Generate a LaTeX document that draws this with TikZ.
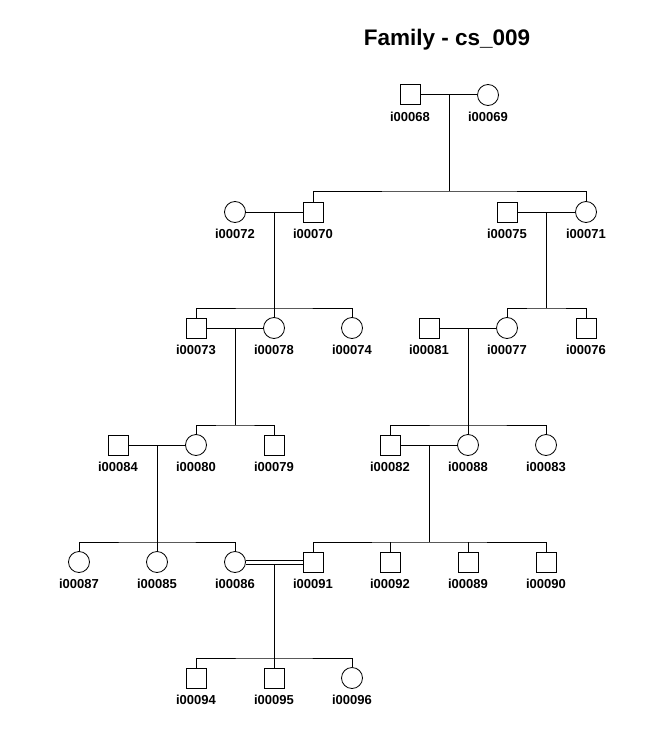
\documentclass[tikz,border=0pt]{standalone}
\usepackage{fontspec}
\setmainfont{Liberation Sans}
\begin{document}
\begin{tikzpicture}[x=1pt,y=-1pt,
  male/.style={draw,line width=1pt,rectangle,minimum size=20pt,inner sep=0pt},
  female/.style={draw,line width=0.8pt,circle,minimum size=21pt,inner sep=0pt},
  lbl/.style={font=\bfseries\fontsize{13}{13}\selectfont,inner sep=0pt,anchor=center},
  ln/.style={line width=1pt}]
\useasboundingbox (0,0) rectangle (657,733);
\fill[white] (0,0) rectangle (657,733);
\newcommand\person[4]{%
  \node[#2] (#1) at (#3,#4) {};
  \node[lbl] (#1l) at (#3,#4+22) {#1};}
\node[font=\bfseries\fontsize{22.5}{22.5}\selectfont,inner sep=0pt] (title) at (447,40) {Family - cs\_009};
% generation 1
\person{i00068}{male}{410}{95}
\person{i00069}{female}{488}{95}
% generation 2
\person{i00072}{female}{235}{212}
\person{i00070}{male}{313}{212}
\person{i00075}{male}{507}{212}
\person{i00071}{female}{586}{212}
% generation 3
\person{i00073}{male}{196}{328}
\person{i00078}{female}{274}{328}
\person{i00074}{female}{352}{328}
\person{i00081}{male}{429}{328}
\person{i00077}{female}{507}{328}
\person{i00076}{male}{586}{328}
% generation 4
\person{i00084}{male}{118}{445}
\person{i00080}{female}{196}{445}
\person{i00079}{male}{274}{445}
\person{i00082}{male}{390}{445}
\person{i00088}{female}{468}{445}
\person{i00083}{female}{546}{445}
% generation 5
\person{i00087}{female}{79}{562}
\person{i00085}{female}{157}{562}
\person{i00086}{female}{235}{562}
\person{i00091}{male}{313}{562}
\person{i00092}{male}{390}{562}
\person{i00089}{male}{468}{562}
\person{i00090}{male}{546}{562}
% generation 6
\person{i00094}{male}{196}{678}
\person{i00095}{male}{274}{678}
\person{i00096}{female}{352}{678}
% marriage midpoints
\coordinate (m1) at (449,95);
\coordinate (m2) at (274,212);
\coordinate (m3) at (546,212);
\coordinate (m4) at (235,328);
\coordinate (m5) at (468,328);
\coordinate (m6) at (157,445);
\coordinate (m7) at (429,445);
\coordinate (m8) at (274,564);
% sibship line heights
\coordinate (s1) at (449,191);
\coordinate (s2) at (274,308);
\coordinate (s3) at (546,308);
\coordinate (s4) at (235,425);
\coordinate (s5) at (468,425);
\coordinate (s6) at (157,542);
\coordinate (s7) at (429,542);
\coordinate (s8) at (274,658);
% marriages
\draw[ln] (i00068) -- (i00069);
\draw[ln] (i00072) -- (i00070);
\draw[ln] (i00075) -- (i00071);
\draw[ln] (i00073) -- (i00078);
\draw[ln] (i00081) -- (i00077);
\draw[ln] (i00084) -- (i00080);
\draw[ln] (i00082) -- (i00088);
\draw[ln] ([yshift=2pt]i00086.east) -- ([yshift=2pt]i00091.west);
\draw[ln] ([yshift=-2pt]i00086.east) -- ([yshift=-2pt]i00091.west);
% descents
\draw[ln] (m1) -- (s1);
\draw[ln] (i00070.north) |- (s1) -| (i00071.north);
\draw[ln] (m2) -- (s2);
\draw[ln] (i00073.north) |- (s2) -| (i00074.north);
\draw[ln] (i00078.north) -- (i00078.north |- s2);
\draw[ln] (m3) -- (s3);
\draw[ln] (i00077.north) |- (s3) -| (i00076.north);
\draw[ln] (m4) -- (s4);
\draw[ln] (i00080.north) |- (s4) -| (i00079.north);
\draw[ln] (m5) -- (s5);
\draw[ln] (i00082.north) |- (s5) -| (i00083.north);
\draw[ln] (i00088.north) -- (i00088.north |- s5);
\draw[ln] (m6) -- (s6);
\draw[ln] (i00087.north) |- (s6) -| (i00086.north);
\draw[ln] (i00085.north) -- (i00085.north |- s6);
\draw[ln] (m7) -- (s7);
\draw[ln] (i00091.north) |- (s7) -| (i00090.north);
\draw[ln] (i00092.north) -- (i00092.north |- s7);
\draw[ln] (i00089.north) -- (i00089.north |- s7);
\draw[ln] (m8) -- (s8);
\draw[ln] (i00094.north) |- (s8) -| (i00096.north);
\draw[ln] (i00095.north) -- (i00095.north |- s8);
\end{tikzpicture}
\end{document}
